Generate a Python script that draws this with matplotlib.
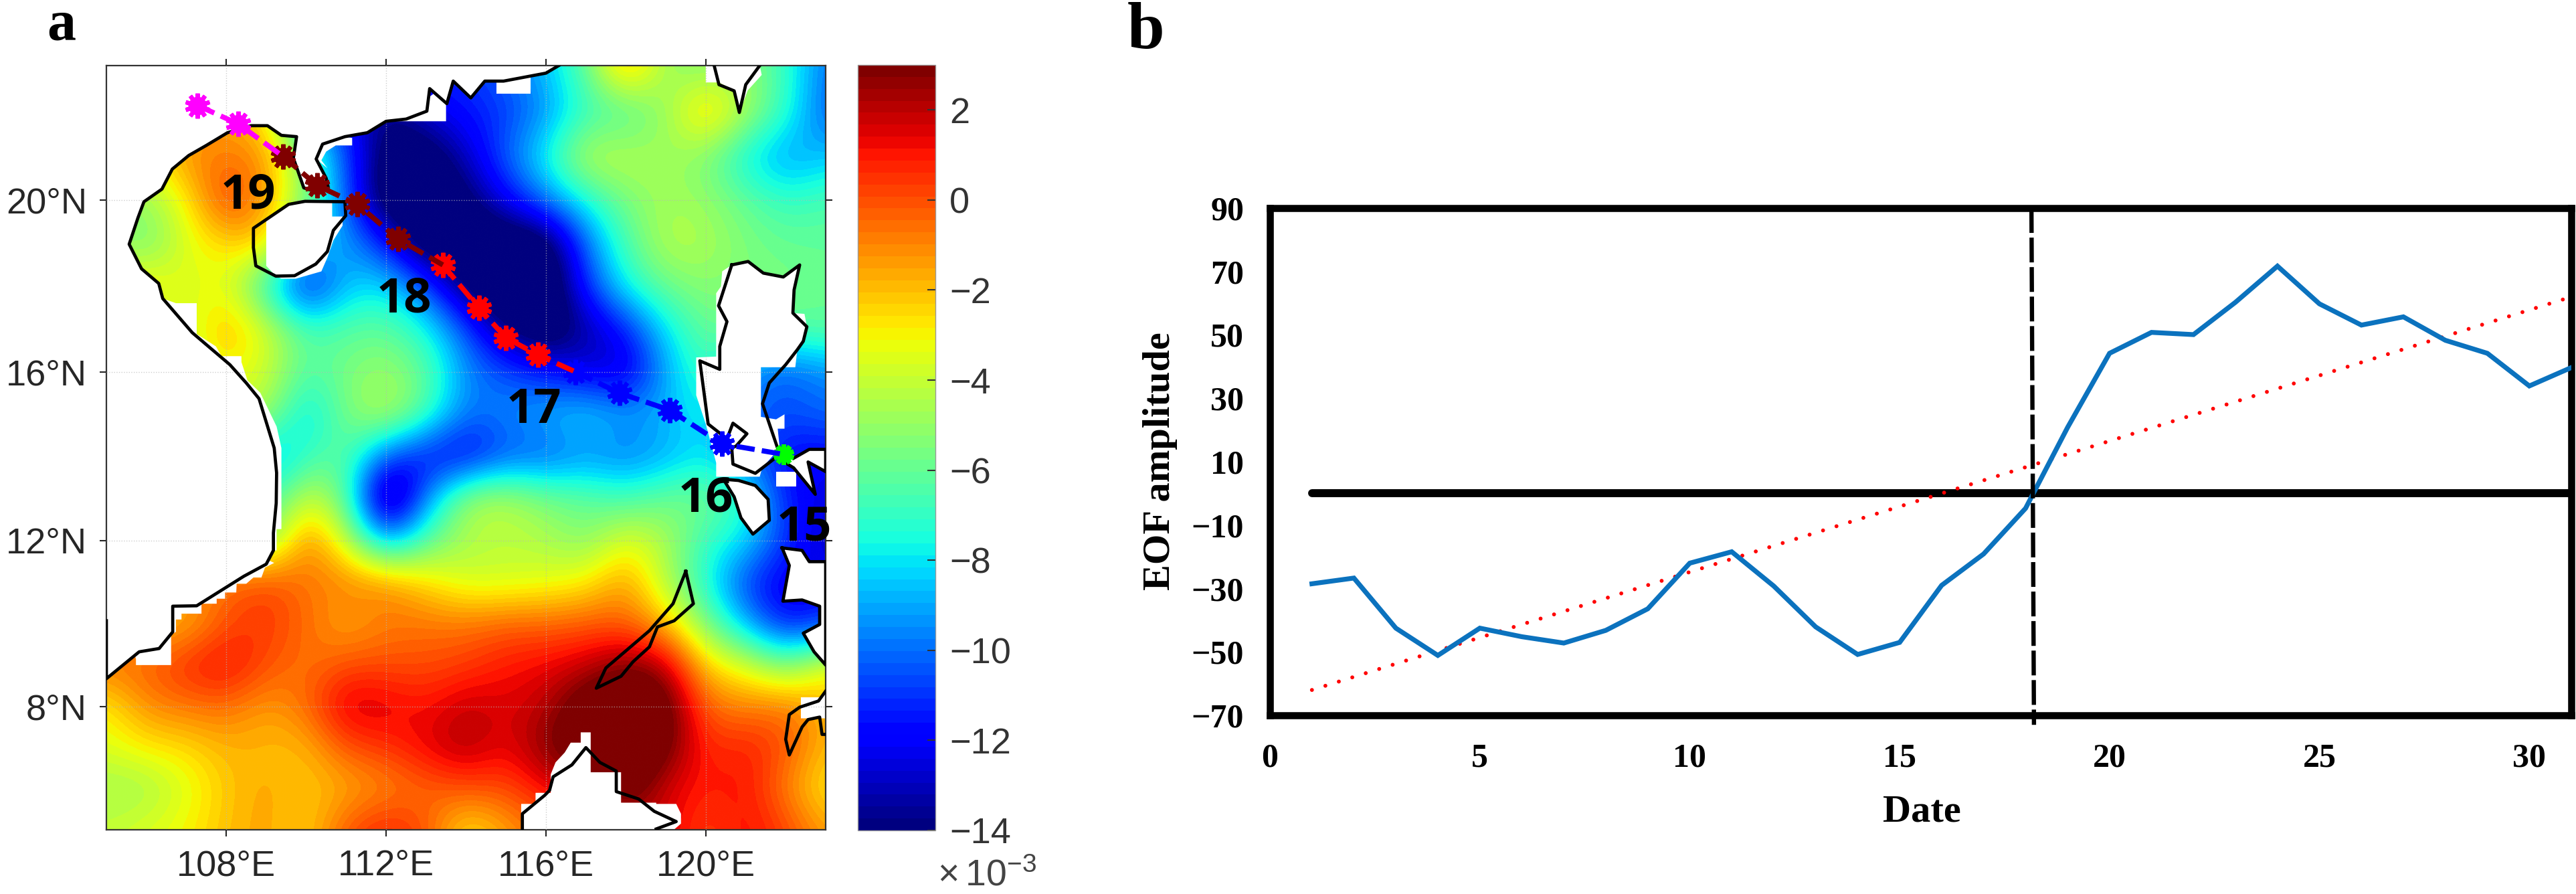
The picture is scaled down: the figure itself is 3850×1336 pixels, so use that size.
import numpy as np
import matplotlib
matplotlib.use("Agg")
import matplotlib.pyplot as plt
from matplotlib.patches import Polygon

W, H = 3850, 1336
plt.rcParams['font.family'] = ['Liberation Sans', 'DejaVu Sans']
plt.rcParams['mathtext.fontset'] = 'custom'
plt.rcParams['mathtext.rm'] = 'Liberation Sans'
plt.rcParams['mathtext.default'] = 'rm'

# ---------- panel a data ----------
field_lons = list(range(105, 124))
field_lats = list(range(23, 4, -1))
row_23 = [-4, -4, -2, -2, -4, -8, -11, -13, -11, -11, -10, -8.5, -6, -1, -5, -5.5, -5, -7, -10]
row_22 = [-4, -4, -2, -1.5, -3, -9, -12, -14, -12.5, -11.5, -11, -9.5, -7, -6.8, -5, -1.5, -4.5, -7, -10.5]
row_21 = [-4, -3, -1, -0.8, -1, -6, -10.5, -15, -15, -13, -10, -7.5, -3.8, -4.2, -4.8, -5.5, -8, -9.5, -8.5]
row_20 = [-5, -5, -3, 0.8, -1.5, -5, -10.5, -15.5, -15.5, -14.5, -12, -9.5, -7.5, -5.5, -4.7, -5, -6, -7, -6.5]
row_19 = [-5, -6, -3.5, -2.5, -2, -8, -9, -11.5, -15.5, -15.5, -15.5, -15.5, -10, -6.5, -4.2, -4.5, -5.5, -6, -6]
row_18 = [-2.5, -2.5, -3.6, -3.3, -7.5, -12.5, -8.5, -8, -10.5, -14.5, -16, -16, -11, -7.5, -5.8, -5.2, -5.5, -5.5, -6]
row_17 = [-4, -4, -4.2, -1.5, -3.6, -6.5, -6.2, -6, -7.5, -10.5, -14, -15.5, -13.5, -11.5, -8, -5.8, -6, -6.2, -6]
row_16 = [-4, -4, -4, -3, -3.8, -6.5, -5.5, -4.8, -6, -9.5, -10.5, -11.5, -12.5, -13, -9, -6.5, -9.5, -10.5, -9.5]
row_15 = [-4, -4, -4, -4, -4.5, -8.5, -5.5, -4, -6.5, -10, -9.5, -8.7, -8, -9, -8.8, -7.5, -10, -10.5, -10]
row_14 = [-4, -4, -4, -4, -9.5, -7, -6, -10.5, -12, -12.5, -10.5, -10.5, -9.5, -10, -9, -8, -10, -12, -12]
row_13 = [-4, -4, -4, -4, -7.5, -3.5, -6, -16, -9.5, -4.5, -4.2, -5.5, -6, -6.7, -5.8, -5.5, -7, -11.5, -12.5]
row_12 = [-4, -4, -4, -4, -6, -0.5, -4, -9.5, -6.2, -4.5, -4.2, -4.5, -5.5, -3.2, -4.5, -7, -8, -11, -13]
row_11 = [-1, -1, -1, -0.5, 0.3, -0.8, -0.8, -1, -2.5, -3.8, -3.8, -3.5, -3, -1.2, -4.5, -7.5, -11, -12.5, -12]
row_10 = [-2, -2, -2, 0, 0.5, -0.5, -1.8, -0.8, -0.7, -0.7, -0.3, -0.4, -0.2, -0.3, -2, -5.5, -9, -12, -11]
row_09 = [-0.5, -0.3, 0.8, 1.5, 0, -0.8, 0, 0, 0, 0.3, 1, 1.3, 1.8, 3, 2.2, -2.5, -3.5, -5.8, -3]
row_08 = [-3, -1, -0.7, -0.5, -1.5, -0.5, 2, 1.6, 1, 2, 1.5, 2, 4, 5, 4, -0.5, -1, -0.5, -2]
row_07 = [-3.5, -2.8, -2.6, -1.8, -2, -2, 0, 0.5, 1.5, 2.4, 1.2, 3, 4, 5, 3.5, 0.5, 1, 0, -2]
row_06 = [-4.8, -4.8, -3.5, -2.2, -1.5, -2.2, -1.8, -1.2, -0.5, 0, 0, 1.2, 2, 4, 1.5, 0.8, 1.2, -1, -3]
row_05 = [-4, -3.5, -3, -2, -1.5, -2.5, 0, 1, 0, -3, -1.5, -0.5, 0.5, 1.5, 1.8, 0, 1.3, 0.3, -1.5]
field_rows = [row_23, row_22, row_21, row_20, row_19, row_18, row_17, row_16, row_15, row_14,
              row_13, row_12, row_11, row_10, row_09, row_08, row_07, row_06, row_05]

lon_ticks = [108, 112, 116, 120]
lat_ticks = [20, 16, 12, 8]
cbar_ticks = [2, 0, -2, -4, -6, -8, -10, -12, -14]

coast_main = [(116.32, 23.06), (116, 22.89), (114.94, 22.71), (114.47, 22.71), (114.12, 22.33), (113.68, 22.71),
              (113.52, 22.2), (113.09, 22.54), (113.02, 22.03), (112.5, 21.85), (112, 21.8), (111.53, 21.54),
              (110.97, 21.45), (110.41, 21.28), (110.25, 20.94), (110.5, 20.5), (110.55, 20.3), (110.2, 20.2),
              (109.94, 20.28), (109.68, 20.96), (109.76, 21.45), (109.38, 21.48), (109.03, 21.7), (108.62, 21.7),
              (108.03, 21.54), (107.5, 21.25), (107.06, 21.02), (106.65, 20.71), (106.39, 20.25), (105.94, 19.96),
              (105.79, 19.59), (105.57, 18.98), (105.88, 18.41), (106.31, 18.07), (106.41, 17.72), (107.15, 16.92),
              (108.09, 16.17), (108.5, 15.74), (108.82, 15.37), (109.09, 14.54), (109.2, 14.2), (109.26, 13.61),
              (109.25, 12.89), (109.18, 12.18), (109.18, 11.76), (109, 11.43), (108.44, 11.14), (107.26, 10.43),
              (106.66, 10.42), (106.66, 9.8), (106.32, 9.4), (105.82, 9.32), (105, 8.67), (105, 10.07)]
coast_hainan = [(110.97, 19.96), (109.97, 19.97), (109.56, 19.9), (108.68, 19.35), (108.68, 18.9), (108.74, 18.48),
                (109.24, 18.24), (109.71, 18.25), (110.24, 18.52), (110.53, 18.81), (110.68, 19.3), (110.99, 19.64),
                (110.97, 19.96)]
fill_hainan = [(109, 19.53), (109.56, 19.9), (109.97, 19.97), (110.65, 19.94), (110.65, 19.62), (110.91, 19.62),
               (110.91, 19.41), (110.68, 19.07), (110.53, 18.67), (110.38, 18.35), (109.74, 18.18), (109.38, 18.18),
               (109.24, 18.24), (109, 18.48)]
coast_taiwan = [(120.21, 23.06), (120.33, 22.63), (120.71, 22.49), (120.84, 22.0), (121, 22.63), (121.35, 23.06)]
fill_taiwan = [(120, 23.06), (120, 22.68), (120.33, 22.68), (120.71, 22.5), (120.84, 22.0), (121.05, 22.5),
               (121.4, 22.85), (121.35, 23.06)]
coast_luzon = [(120.65, 18.5), (121.06, 18.58), (121.44, 18.31), (121.94, 18.22), (122.35, 18.5), (122.21, 17.92),
               (122.18, 17.38), (122.53, 17.06), (122.44, 16.72), (122.29, 16.52), (122, 16.17), (121.59, 15.74),
               (121.42, 15.25), (121.85, 14.05), (121.65, 13.9), (121.24, 13.6), (120.68, 13.82), (120.65, 14.2),
               (120.76, 14.25), (121.03, 14.54), (120.68, 14.79), (120.53, 14.42), (120.06, 14.77), (119.85, 16.26),
               (120.35, 16.06), (120.35, 16.6), (120.53, 17.18), (120.32, 17.55), (120.65, 18.5)]
fill_luzon = [(120.65, 18.5), (121.06, 18.58), (121.44, 18.31), (121.94, 18.22), (122.35, 18.5), (122.21, 17.92),
              (122.18, 17.38), (122.47, 17.36), (122.53, 17.06), (122.44, 16.72), (122.29, 16.52), (122.24, 16.11),
              (121.38, 16.11), (121.38, 14.94), (121.76, 14.88), (121.97, 15.0), (121.97, 14.66), (121.8, 14.66),
              (121.85, 14.2), (121.41, 13.73), (121.35, 13.52), (120.26, 13.52), (120.26, 13.85), (120.0, 14.77),
              (119.76, 15.45), (119.76, 16.34), (120.26, 16.36), (120.26, 17.84), (120.38, 18.0), (120.41, 18.35)]
coast_bicol = [(122.2, 13.96), (122.59, 14.17), (123, 14.17), (123, 13.64), (122.56, 13.87), (122.74, 13.1),
               (122.2, 13.73), (121.91, 13.9)]
fill_bicol = [(121.76, 13.64), (122.26, 13.64), (122.26, 13.28), (121.76, 13.28)]
coast_mindoro = [(120.44, 13.46), (120.82, 13.43), (121.24, 13.31), (121.56, 12.98), (121.59, 12.48), (121.18, 12.15),
                 (120.88, 12.54), (120.71, 13.04), (120.44, 13.46)]
coast_panay = [(121.91, 11.82), (122.41, 11.76), (122.59, 11.49), (123, 11.49), (123, 9.0), (122.71, 9.32),
               (122.44, 9.77), (122.85, 9.98), (122.85, 10.42), (122.41, 10.57), (121.93, 10.54), (122.09, 11.4),
               (121.91, 11.82)]
coast_palawan = [(119.5, 11.26), (119.69, 10.48), (119.21, 10.07), (118.79, 9.92), (118.59, 9.44), (118.18, 9.08),
                 (117.88, 8.73), (117.26, 8.44), (117.5, 8.93), (118.59, 9.83), (119.18, 10.48), (119.5, 11.26)]
coast_borneo = [(115.41, 5.0), (115.41, 5.39), (115.97, 5.84), (116.09, 5.96), (116.18, 6.29), (116.65, 6.58),
                (117, 7.0), (117.35, 6.64), (117.76, 6.43), (117.76, 5.93), (118.32, 5.75), (118.71, 5.45),
                (119.26, 5.2), (118.76, 5.02)]
fill_borneo = [(115.38, 5.0), (115.38, 5.63), (115.74, 5.63), (115.74, 5.9), (116.12, 5.9), (116.12, 6.35),
               (116.24, 6.64), (116.47, 6.88), (116.62, 7.12), (116.87, 7.12), (116.87, 7.37), (117.12, 7.37),
               (117.12, 6.4), (117.88, 6.4), (117.88, 5.66), (118.76, 5.66), (118.76, 5.63), (119.26, 5.63),
               (119.38, 5.39), (119.38, 5.15), (119.2, 5.0)]
coast_sulu = [(123, 8.37), (122.82, 8.13), (122.35, 7.98), (122.09, 7.8), (122, 7.2), (122.09, 6.82), (122.41, 7.5),
              (122.56, 7.68), (122.85, 7.74), (122.91, 7.32), (123, 7.32)]
fill_sulu = [(122.38, 8.22), (122.88, 8.22), (123, 8.37), (123, 7.71), (122.38, 7.71)]
mask_vietnam_south = [(109.2, 11.46), (108.97, 11.35), (108.88, 11.11), (108.68, 11.11), (108.5, 10.96), (108.26, 10.96),
                      (108.25, 10.75), (107.97, 10.75), (107.97, 10.6), (107.76, 10.6), (107.76, 10.48), (107.38, 10.48),
                      (107.38, 10.24), (106.88, 10.24), (106.88, 10.1), (106.74, 10.1), (106.74, 9.8), (106.62, 9.74),
                      (106.62, 9.0), (105.74, 9.0), (105.74, 9.14), (105.5, 10), (108, 12)]
mask_vietnam_mid = [(106.41, 17.72), (106.74, 17.61), (107.26, 17.61), (107.26, 16.89), (107.74, 16.6), (107.88, 16.37),
                    (108.38, 16.37), (108.38, 16.23), (108.53, 15.8), (108.85, 15.51), (109.26, 14.71), (109.38, 14.2),
                    (109.38, 12.27), (109.26, 12.27), (109.26, 11.76), (109.18, 11.76), (108, 14)]
mask_north = [(110.97, 21.45), (111.15, 21.42), (111.15, 21.25), (110.74, 21.25), (110.5, 21.11), (110.38, 20.91),
              (110.53, 20.73), (110.25, 20.94), (110.41, 21.28)]
mask_guangdong = [(111.9, 21.8), (113.5, 21.8), (113.5, 22.63), (113.0, 22.3)]
mask_hk = [(114.76, 22.75), (114.76, 22.43), (115.62, 22.43), (115.62, 22.85)]

track_magenta_lon = [107.28, 108.3, 109.42]
track_magenta_lat = [22.16, 21.74, 21.0]
track_maroon_lon = [109.42, 110.28, 111.28, 112.3, 113.42]
track_maroon_lat = [21.0, 20.33, 19.9, 19.1, 18.5]
track_red_lon = [113.42, 114.32, 115.0, 115.8, 116.74]
track_red_lat = [18.5, 17.5, 16.8, 16.4, 16.0]
track_blue_lon = [116.74, 117.84, 119.1, 120.4, 121.95]
track_blue_lat = [16.0, 15.5, 15.1, 14.3, 14.05]
day_names = ['19', '18', '17', '16', '15']
day_lons = [108.55, 112.45, 115.7, 120.0, 122.47]
day_lats = [20.1, 17.7, 15.1, 13.0, 12.3]

# ---------- panel b data ----------
dates = list(range(1, 32))
eof_amplitude = [-28.5, -26.7, -42.5, -51.1, -42.5, -45.2, -47.2, -43.2, -36.4, -22, -18.4, -29.2, -42.1, -50.8, -47,
                 -29, -19.1, -4.7, 20.8, 44.2, 50.8, 50.1, 60.3, 71.7, 59.8, 53.1, 55.7, 48.3, 44.2, 33.9, 39.7]
trend_x = [1, 31]
trend_y = [-62, 62]
zero_x = [1, 31]
zero_y = [0, 0]
event_x = [18.14, 18.2]
event_y = [90, -73]
b_xticks = [0, 5, 10, 15, 20, 25, 30]
b_yticks = [90, 70, 50, 30, 10, -10, -30, -50, -70]


def axes_px(left, top, right, bottom):
    return fig.add_axes([left / W, 1 - bottom / H, (right - left) / W, (bottom - top) / H])


def merc(lat):
    return np.log(np.tan(np.pi / 4 + np.radians(np.clip(lat, -80, 80)) / 2))


def merc_inv(y):
    return np.degrees(2 * np.arctan(np.exp(y)) - np.pi / 2)


fig = plt.figure(figsize=(W / 100, H / 100), dpi=100, facecolor='white')

# ---------- panel a ----------
ax = axes_px(159, 98, 1234, 1240)
ax.set_yscale('function', functions=(merc, merc_inv))
cmap = plt.get_cmap('jet', 64)
field = np.array(field_rows, dtype=float)
im = ax.imshow(field, cmap=cmap, vmin=-14, vmax=3, aspect='auto', interpolation='bicubic',
               extent=[field_lons[0] - 0.5, field_lons[-1] + 0.5, field_lats[-1] - 0.5, field_lats[0] + 0.5],
               origin='upper', zorder=1)
ax.set_xlim(105, 123)
ax.set_ylim(5, 23.06)

for pts in [coast_main + [(105, 23.06)], fill_hainan, fill_taiwan, fill_luzon, coast_bicol, fill_bicol, coast_mindoro,
            coast_panay, fill_borneo, fill_sulu, mask_vietnam_south, mask_vietnam_mid, mask_north, mask_guangdong,
            mask_hk]:
    ax.add_patch(Polygon(pts, closed=True, fc='white', ec='none', zorder=2))
for pts in [coast_main, coast_hainan, coast_taiwan, coast_luzon, coast_bicol, coast_mindoro, coast_panay,
            coast_palawan, coast_borneo, coast_sulu]:
    xs, ys = zip(*pts)
    ax.plot(xs, ys, color='black', lw=3.4, solid_joinstyle='round', zorder=4)

ax.set_xticks(lon_ticks, [f'{v}°E' for v in lon_ticks])
ax.set_yticks(lat_ticks, [f'{v}°N' for v in lat_ticks])
ax.minorticks_off()
ax.tick_params(axis='both', which='major', direction='out', length=7, width=1.5, top=True, right=True,
               labelsize=39, labelcolor='#262626', color='#262626', pad=14)
ax.grid(True, color='#b8b8b8', lw=1, ls=':', alpha=0.7, zorder=3)
ax.set_axisbelow(False)
for s in ax.spines.values():
    s.set_linewidth(1.6)
    s.set_color('#333333')

tracks = [(track_blue_lon, track_blue_lat, '#0000FF'), (track_red_lon, track_red_lat, '#FF0000'),
          (track_maroon_lon, track_maroon_lat, '#800000'), (track_magenta_lon, track_magenta_lat, '#FF00FF')]
ax.plot(track_blue_lon[-1:], track_blue_lat[-1:], ls='none', marker=(10, 2, 0), ms=22, mew=5, color='#00FF00', zorder=5)
for i, (tx, ty, c) in enumerate(tracks):
    z = 5 + i
    ax.plot(tx, ty, color=c, lw=5.5, ls=(0, (3.6, 1.4)), zorder=z)
    px, py = tx[:-1], ty[:-1]
    ax.plot(px, py, ls='none', marker='o', ms=20, color=c, mew=0, zorder=z)
    ax.plot(px, py, ls='none', marker=(10, 2, 0), ms=27, mew=4.5, color=c, zorder=z)

for name, lo, la in zip(day_names, day_lons, day_lats):
    ax.text(lo, la, name, family='Open Sans', weight='bold', fontsize=52, color='black', ha='center', va='center', zorder=10)

# colorbar
cax = axes_px(1282, 97, 1398, 1241)
cb = fig.colorbar(im, cax=cax, orientation='vertical')
cb.set_ticks(cbar_ticks)
cax.tick_params(direction='in', length=9, width=1.5, right=True, left=False, labelsize=39, labelcolor='#333333',
                color='#333333', pad=15)
cb.outline.set_linewidth(1)
cb.outline.set_edgecolor('#999999')
fig.text(1401 / W, 1 - 1335 / H, r'$\times\,10^{-3}$', fontsize=40, color='#444444', ha='left', va='bottom')

# ---------- panel b ----------
serif = ['Liberation Serif', 'DejaVu Serif']
bx = axes_px(1898, 311, 3843, 1069)
bx.set_xlim(0, 31)
bx.set_ylim(-70, 90)
bx.plot(zero_x, zero_y, color='black', lw=8.6, solid_capstyle='round', zorder=2)
bx.plot(trend_x, trend_y, color='#FF0000', lw=4.2, ls=(0, (0.01, 3.6)), dash_capstyle='round', zorder=3)
bx.plot(dates, eof_amplitude, color='#0B72BE', lw=5.2, solid_joinstyle='miter', zorder=4)
bx.plot(event_x, event_y, color='black', lw=4.6, ls=(0, (5.8, 1.1)), clip_on=False, zorder=5)
bx.set_xticks(b_xticks)
bx.set_yticks(b_yticks)
bx.tick_params(axis='both', length=0, labelsize=36)
bx.tick_params(axis='x', pad=30)
bx.tick_params(axis='y', pad=28)
for lab in bx.get_xticklabels() + bx.get_yticklabels():
    lab.set_family(serif)
    lab.set_weight('bold')
for s in bx.spines.values():
    s.set_linewidth(7.6)
    s.set_color('black')
fig.text(1734 / W, 1 - 689 / H, 'EOF amplitude', family=serif, weight='bold', fontsize=42, rotation=90,
         ha='center', va='center')
fig.text(2872 / W, 1 - 1214 / H, 'Date', family=serif, weight='bold', fontsize=42, ha='center', va='center')

fig.text(70 / W, 1 - 59 / H, 'a', family=serif, weight='bold', fontsize=62, ha='left', va='baseline')
fig.text(1685 / W, 1 - 72 / H, 'b', family=serif, weight='bold', fontsize=72, ha='left', va='baseline')

fig.savefig('out.png', dpi=100, facecolor='white')
